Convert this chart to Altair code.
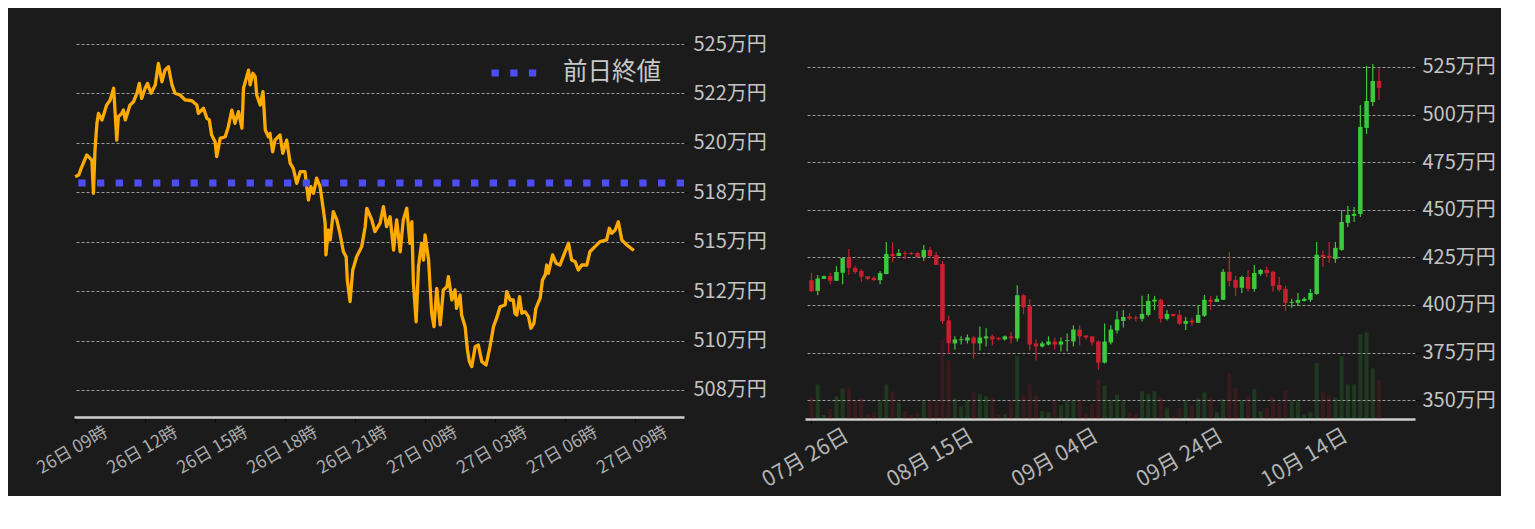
import altair as alt
import pandas as pd

FONT = "Noto Sans CJK JP"
BG = "#1b1b1b"

# ---------------- left chart: intraday price (10/26 09:00 -> 10/27 09:00) ----------------
intraday_minutes = [
    0, 9, 17, 30, 43, 47, 51, 56, 60, 69,
    77, 81, 90, 99, 107, 111, 120, 124, 129, 137,
    141, 150, 159, 165, 171, 180, 186, 195, 206, 214,
    223, 231, 240, 249, 257, 270, 283, 300, 313, 317,
    330, 339, 345, 351, 360, 364, 373, 386, 394, 403,
    411, 420, 429, 433, 446, 450, 457, 463, 467, 476,
    483, 489, 497, 501, 508, 514, 527, 534, 544, 553,
    561, 570, 579, 591, 600, 606, 613, 621, 630, 639,
    643, 645, 651, 656, 664, 673, 681, 690, 697, 700,
    707, 714, 724, 737, 746, 750, 763, 771, 784, 793,
    801, 810, 819, 827, 836, 844, 853, 861, 866, 870,
    877, 883, 891, 896, 900, 909, 917, 923, 930, 939,
    947, 956, 960, 969, 977, 981, 990, 994, 1003, 1009,
    1014, 1020, 1029, 1037, 1046, 1057, 1067, 1076, 1084, 1093,
    1106, 1110, 1119, 1127, 1131, 1136, 1143, 1149, 1157, 1166,
    1172, 1180, 1185, 1196, 1202, 1209, 1213, 1217, 1228, 1237,
    1247, 1257, 1269, 1277, 1286, 1294, 1303, 1316, 1324, 1337,
    1350, 1367, 1374, 1380, 1389, 1397, 1406, 1419, 1437,
]
intraday_price = [
    518.29, 518.37, 518.79, 519.39, 519.13, 517.45, 519.64, 520.99, 521.49, 521.16,
    521.66, 521.91, 522.17, 522.76, 520.14, 521.32, 521.49, 521.66, 521.16, 521.66,
    521.91, 522.08, 522.51, 523.01, 522.25, 522.76, 523.01, 522.51, 522.93, 524.02,
    523.09, 523.68, 523.85, 522.93, 522.51, 522.42, 522.17, 522.13, 521.91, 521.49,
    521.75, 521.24, 521.16, 520.40, 520.06, 519.30, 520.23, 520.31, 520.82, 521.66,
    520.99, 521.58, 520.74, 522.76, 523.68, 522.93, 523.52, 523.35, 522.42, 521.91,
    522.59, 520.65, 520.31, 520.48, 519.55, 520.14, 520.40, 519.47, 520.14, 518.97,
    518.71, 517.95, 518.54, 518.54, 517.11, 517.78, 517.45, 518.21, 517.78, 516.52,
    515.93, 514.33, 515.59, 515.09, 516.52, 516.10, 515.42, 514.49, 514.24, 513.06,
    511.97, 513.57, 514.24, 514.75, 515.76, 516.69, 516.10, 515.51, 515.93, 516.77,
    515.76, 516.26, 514.58, 516.10, 514.49, 516.10, 516.69, 514.92, 516.01, 512.90,
    510.95, 513.74, 514.92, 514.07, 515.34, 514.07, 511.38, 510.70, 512.64, 510.79,
    512.56, 512.72, 513.23, 512.05, 512.56, 511.63, 512.30, 511.29, 510.70, 509.52,
    508.93, 508.68, 509.69, 509.77, 508.93, 508.76, 509.69, 510.70, 511.13, 511.71,
    511.80, 512.47, 512.05, 512.05, 511.38, 511.29, 512.22, 511.38, 511.46, 511.21,
    510.62, 510.87, 511.63, 512.14, 513.06, 513.32, 513.82, 513.40, 514.33, 513.91,
    513.82, 514.33, 514.92, 514.07, 513.99, 513.57, 513.82, 513.82, 514.49, 514.75,
    515.00, 515.09, 515.68, 515.42, 515.59, 516.01, 515.09, 514.83, 514.55,
]
prev_close_label = ["前日終値"]
prev_close_value = [517.97]

left_tick_values = [507.5, 510, 512.5, 515, 517.5, 520, 522.5, 525]
left_tick_labels = ["508万円", "510万円", "512万円", "515万円", "518万円", "520万円", "522万円", "525万円"]

left_time_ticks = [(26, 9), (26, 12), (26, 15), (26, 18), (26, 21), (27, 0), (27, 3), (27, 6), (27, 9)]

start = pd.Timestamp("2023-10-26 09:00")
left_df = pd.DataFrame({
    "time": start + pd.to_timedelta(intraday_minutes, unit="m"),
    "price": intraday_price,
})
prev_df = pd.DataFrame({"series": prev_close_label, "value": prev_close_value})

label_expr = ""
for v, lab in zip(left_tick_values, left_tick_labels):
    label_expr += f"datum.value == {v} ? '{lab}' : "
label_expr += "''"

left_x = alt.X(
    "time:T",
    scale=alt.Scale(domain=[alt.DateTime(year=2023, month=10, date=26, hours=8, minutes=57),
                            alt.DateTime(year=2023, month=10, date=27, hours=11, minutes=6)]),
    axis=alt.Axis(
        title=None, format="%d日 %H時", grid=False,
        values=[alt.DateTime(year=2023, month=10, date=d, hours=h) for d, h in left_time_ticks],
        labelAngle=330, labelAlign="center", labelBaseline="middle",
        labelPadding=28, labelOffset=-3, tickSize=5, labelFontSize=17.5, labelColor="#acacac",
        labelOverlap=False, labelFlush=False,
        domainColor="#cfcfcf", domainWidth=2.5, tickColor="#080808",
    ),
)
left_y_scale = alt.Scale(domain=[506.13, 525.71], nice=False, zero=False)

line = alt.Chart(left_df).mark_line(color="#ffaa00", strokeWidth=3.3, strokeJoin="round").encode(
    x=left_x,
    y=alt.Y("price:Q", scale=left_y_scale, axis=alt.Axis(
        title=None, orient="right", values=left_tick_values, labelExpr=label_expr,
        domain=False, grid=True, gridDash=[3, 2], gridColor="#bdbdbd", gridWidth=0.8,
        tickSize=4, tickColor="#050505", labelPadding=5, labelFontSize=20, labelColor="#c4c4c4",
    )),
)

rule = alt.Chart(prev_df).mark_rule(strokeWidth=7, strokeDash=[7.3, 11.4], strokeCap="butt").encode(
    y=alt.Y("value:Q", scale=left_y_scale),
    color=alt.Color("series:N", scale=alt.Scale(domain=prev_close_label, range=["#4d4df5"]),
                    legend=alt.Legend(
                        title=None, orient="none", legendX=414, legendY=17,
                        symbolType="stroke", symbolStrokeWidth=7, symbolDash=[7.3, 11.4],
                        symbolSize=2025, labelFontSize=24.5, labelColor="#c8c8c8",
                        labelFont=FONT, labelOffset=23, padding=0,
                    )),
)

left = alt.layer(line, rule).properties(width=610, height=387)

# ---------------- right chart: daily candles 07/26 -> 10/25 ----------------
opens = [
    413.0, 407.4, 413.7, 415.1, 412.7, 416.9, 424.6, 419.5, 417.8, 415.1,
    414.3, 413.0, 416.2, 426.8, 425.7, 427.3, 427.3, 427.3, 425.2, 428.9,
    426.2, 421.5, 391.9, 379.8, 381.5, 381.3, 382.9, 379.8, 382.4, 383.5,
    382.6, 381.9, 383.5, 382.4, 405.1, 399.3, 379.8, 378.2, 379.2, 380.8,
    379.2, 381.0, 380.8, 387.1, 384.0, 383.5, 380.8, 369.7, 380.3, 386.6,
    391.6, 393.9, 393.4, 392.7, 394.8, 401.8, 402.7, 392.7, 395.3, 394.8,
    390.1, 391.8, 390.6, 394.3, 402.7, 401.6, 402.7, 417.4, 413.2, 409.0,
    414.7, 408.4, 416.3, 418.4, 417.4, 410.5, 408.4, 401.1, 401.1, 402.1,
    402.7, 405.8, 426.3, 425.8, 424.2, 428.9, 443.1, 446.8, 447.8, 493.0,
    506.6, 517.6,
]
highs = [
    416.9, 415.7, 415.5, 416.9, 420.4, 425.0, 429.4, 420.4, 418.8, 415.1,
    415.1, 417.8, 433.1, 433.1, 429.4, 428.3, 427.8, 427.8, 431.5, 430.5,
    427.8, 423.1, 394.5, 383.5, 383.5, 384.5, 383.5, 388.7, 387.7, 384.5,
    383.1, 384.0, 385.6, 410.4, 405.6, 403.0, 381.9, 380.8, 383.5, 382.9,
    382.9, 385.0, 389.3, 389.3, 384.0, 383.5, 381.3, 390.3, 389.3, 396.7,
    397.4, 395.7, 394.3, 404.8, 405.8, 404.8, 403.2, 397.4, 395.3, 397.4,
    393.7, 393.4, 400.0, 405.3, 404.8, 404.8, 418.9, 427.9, 415.3, 415.3,
    418.4, 421.0, 418.9, 420.0, 417.9, 414.7, 410.0, 403.2, 406.3, 404.2,
    408.4, 433.1, 428.4, 433.1, 433.1, 449.9, 452.0, 451.5, 505.0, 525.5,
    526.6, 524.0,
]
lows = [
    406.7, 405.1, 413.7, 410.9, 412.7, 410.9, 415.7, 416.2, 412.1, 413.0,
    412.7, 410.9, 416.2, 422.5, 425.7, 424.1, 426.2, 425.0, 423.1, 425.2,
    421.0, 390.0, 374.1, 376.6, 379.2, 379.8, 371.8, 376.1, 378.2, 378.7,
    381.3, 381.3, 379.8, 380.8, 395.1, 376.1, 370.8, 377.6, 378.7, 376.6,
    375.5, 375.5, 378.2, 378.7, 381.9, 378.7, 366.0, 369.2, 379.2, 385.0,
    388.1, 392.0, 391.3, 391.3, 393.9, 397.4, 390.6, 391.8, 393.9, 389.5,
    386.9, 389.0, 390.6, 393.7, 397.4, 401.6, 402.7, 409.7, 404.8, 406.3,
    406.9, 406.9, 415.3, 414.7, 406.9, 406.9, 396.9, 398.5, 399.5, 401.8,
    401.6, 405.3, 420.0, 422.1, 422.1, 428.4, 441.0, 443.6, 446.2, 489.8,
    504.5, 507.7,
]
closes = [
    407.2, 413.9, 415.1, 412.7, 417.3, 424.6, 419.5, 417.3, 414.8, 413.6,
    413.0, 416.7, 426.8, 425.7, 427.3, 426.8, 426.8, 425.2, 428.9, 425.7,
    421.0, 391.5, 379.9, 381.9, 382.0, 382.9, 379.8, 382.9, 383.5, 381.9,
    382.0, 383.5, 382.4, 405.1, 398.8, 379.2, 378.2, 379.8, 380.8, 379.2,
    380.8, 381.5, 387.1, 383.5, 382.9, 380.3, 369.7, 380.8, 387.1, 392.4,
    393.7, 392.9, 392.9, 395.3, 402.1, 402.8, 392.7, 395.3, 394.1, 390.1,
    391.6, 390.8, 394.8, 402.7, 401.6, 403.2, 417.4, 412.6, 409.0, 414.7,
    408.4, 416.8, 418.4, 416.8, 410.0, 407.9, 401.1, 401.6, 402.7, 403.2,
    406.3, 426.3, 425.2, 424.7, 430.0, 443.6, 447.3, 447.8, 493.5, 507.1,
    517.6, 514.0,
]
volumes = [
    22.0, 34.7, 4.0, 10.0, 22.7, 30.7, 31.7, 17.7, 20.7, 5.0,
    6.7, 17.7, 34.7, 27.7, 16.7, 7.7, 4.0, 6.0, 17.7, 17.7,
    17.7, 78.7, 58.7, 20.7, 12.7, 18.7, 26.7, 24.7, 22.7, 21.7,
    4.7, 4.7, 18.7, 62.7, 23.7, 34.7, 23.7, 7.7, 6.7, 17.7,
    13.7, 17.7, 18.7, 18.7, 5.7, 15.7, 39.7, 33.2, 18.7, 24.2,
    17.7, 6.7, 5.7, 27.7, 24.7, 27.7, 21.7, 10.7, 2.7, 10.7,
    17.7, 13.7, 20.7, 26.7, 21.7, 6.7, 19.7, 45.7, 30.7, 18.7,
    22.7, 29.7, 7.7, 10.7, 21.7, 16.7, 28.7, 17.7, 17.7, 4.7,
    6.7, 55.7, 26.7, 23.7, 21.7, 62.7, 34.7, 34.7, 84.7, 86.7,
    50.7, 38.7,
]
right_tick_values = [350, 375, 400, 425, 450, 475, 500, 525]
right_date_ticks = [(7, 26), (8, 15), (9, 4), (9, 24), (10, 14)]

dates = pd.date_range("2023-07-26", periods=len(opens), freq="D")
cdf = pd.DataFrame({"date": dates, "open": opens, "high": highs, "low": lows,
                    "close": closes, "volume": volumes})
cdf["dir"] = ["up" if c >= o else "down" for o, c in zip(cdf["open"], cdf["close"])]

dir_color = alt.Color("dir:N", scale=alt.Scale(domain=["up", "down"], range=["#3cc93c", "#c9202f"]),
                      legend=None)
right_x = alt.X(
    "date:T",
    scale=alt.Scale(domain=[alt.DateTime(year=2023, month=7, date=25, hours=18, minutes=20),
                            alt.DateTime(year=2023, month=10, date=29, hours=23, minutes=8)]),
    axis=alt.Axis(
        title=None, format="%m月 %d日", grid=False,
        values=[alt.DateTime(year=2023, month=m, date=d) for m, d in right_date_ticks],
        labelAngle=330, labelAlign="center", labelBaseline="middle",
        labelPadding=34, labelOffset=-6, tickSize=5, labelFontSize=21.5, labelColor="#b4b4b4",
        labelOverlap=False, labelFlush=False,
        domainColor="#cfcfcf", domainWidth=2.5, tickColor="#080808",
    ),
)
price_scale = alt.Scale(domain=[340.1, 544.4], nice=False, zero=False)
price_axis = alt.Axis(
    title=None, orient="right", values=right_tick_values, labelExpr="datum.value + '万円'",
    domain=False, grid=True, gridDash=[3, 2], gridColor="#bdbdbd", gridWidth=0.8,
    tickSize=4, tickColor="#050505", labelPadding=3, labelFontSize=20, labelColor="#c4c4c4",
)

vol = alt.Chart(cdf).mark_bar(width=4, opacity=0.17).encode(
    x=right_x,
    y=alt.Y("volume:Q", scale=alt.Scale(domain=[0, 389], nice=False), axis=None),
    color=dir_color,
)
wick = alt.Chart(cdf).mark_rule(strokeWidth=1.2).encode(
    x="date:T",
    y=alt.Y("low:Q", scale=price_scale, axis=price_axis),
    y2="high:Q",
    color=dir_color,
)
body = alt.Chart(cdf).mark_bar(width=4.5).encode(
    x="date:T",
    y=alt.Y("open:Q", scale=price_scale),
    y2="close:Q",
    color=dir_color,
)
right = alt.layer(vol, alt.layer(wick, body)).resolve_scale(y="independent").properties(
    width=610, height=389)

chart = alt.hconcat(left, right, spacing=121, bounds="flush").resolve_scale(
    color="independent"
).properties(
    padding={"left": 25, "top": 22, "right": 5, "bottom": 5},
    background=BG,
).configure(
    font=FONT,
).configure_view(
    stroke=None, strokeWidth=0,
).configure_axis(
    labelFont=FONT,
)

chart.save("out.html", embed_options={"renderer": "svg", "actions": False})
